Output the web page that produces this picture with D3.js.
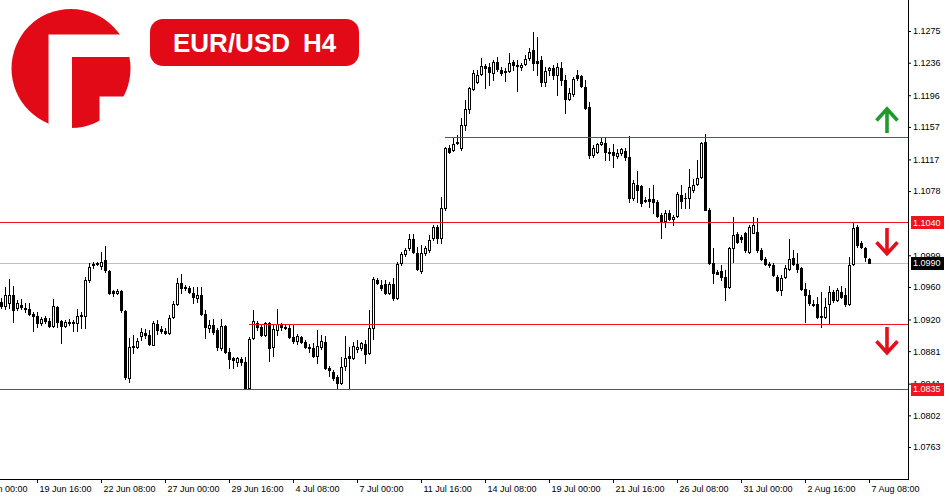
<!DOCTYPE html>
<html>
<head>
<meta charset="utf-8">
<script src="https://cdn.jsdelivr.net/npm/d3@7"></script>
<style>
  body { margin: 0; background: #fff; }
  svg { display: block; }
  text { font-family: "Liberation Sans", Arial, sans-serif; }
</style>
</head>
<body>
<script>
// EUR/USD H4 candles (oldest first)
var opens = [1.0942,1.0937,1.0940,1.0950,1.0934,1.0938,1.0934,1.0933,1.0927,1.0924,1.0916,1.0922,1.0918,1.0912,1.0935,1.0918,1.0912,1.0917,1.0916,1.0916,
  1.0924,1.0924,1.0969,1.0987,1.0988,1.0986,1.0993,1.0980,1.0955,1.0953,1.0955,1.0930,1.0848,1.0886,1.0886,1.0900,1.0903,1.0901,1.0888,1.0915,
  1.0908,1.0906,1.0903,1.0923,1.0939,1.0965,1.0959,1.0959,1.0953,1.0947,1.0950,1.0927,1.0910,1.0913,1.0907,1.0885,1.0912,1.0880,1.0873,1.0868,
  1.0871,1.0868,1.0836,1.0897,1.0916,1.0911,1.0901,1.0916,1.0886,1.0907,1.0913,1.0911,1.0910,1.0898,1.0893,1.0899,1.0892,1.0886,1.0885,1.0875,
  1.0886,1.0892,1.0860,1.0855,1.0849,1.0842,1.0863,1.0875,1.0873,1.0884,1.0885,1.0890,1.0879,1.0910,1.0969,1.0962,1.0964,1.0953,1.0964,1.0947,
  1.0990,1.1001,1.1008,1.1019,1.1002,1.0980,1.1002,1.1006,1.1020,1.1034,1.1020,1.1057,1.1131,1.1129,1.1137,1.1131,1.1159,1.1179,1.1204,1.1212,
  1.1222,1.1232,1.1231,1.1223,1.1237,1.1227,1.1226,1.1226,1.1237,1.1233,1.1231,1.1234,1.1242,1.1252,1.1238,1.1239,1.1212,1.1227,1.1230,1.1221,
  1.1230,1.1215,1.1191,1.1198,1.1221,1.1220,1.1206,1.1182,1.1122,1.1126,1.1136,1.1137,1.1126,1.1126,1.1121,1.1125,1.1127,1.1120,1.1070,1.1086,
  1.1084,1.1067,1.1068,1.1068,1.1065,1.1049,1.1041,1.1051,1.1044,1.1047,1.1073,1.1070,1.1070,1.1079,1.1087,1.1095,1.1138,1.1055,1.0990,1.0978,
  1.0980,1.0972,1.0960,1.1008,1.1025,1.1022,1.1026,1.1003,1.1026,1.1028,1.1006,1.0994,1.0988,1.0987,1.0972,1.0956,1.0972,1.0982,1.0996,1.0988,
  1.0983,1.0958,1.0950,1.0939,1.0939,1.0923,1.0923,1.0939,1.0954,1.0944,1.0954,1.0950,1.0939,1.0988,1.1034,1.1014,1.1008,1.0994];
var highs = [1.0947,1.0960,1.0970,1.0961,1.0944,1.0945,1.0940,1.0940,1.0929,1.0929,1.0923,1.0924,1.0922,1.0945,1.0937,1.0919,1.0919,1.0921,1.0919,1.0933,
  1.0929,1.0972,1.0990,1.0991,1.0991,1.1003,1.1010,1.0981,1.0956,1.0958,1.0956,1.0932,1.0897,1.0901,1.0897,1.0910,1.0908,1.0907,1.0918,1.0919,
  1.0912,1.0910,1.0926,1.0943,1.0971,1.0976,1.0962,1.0961,1.0960,1.0960,1.0960,1.0932,1.0919,1.0921,1.0910,1.0921,1.0913,1.0885,1.0874,1.0874,
  1.0874,1.0874,1.0898,1.0932,1.0918,1.0915,1.0917,1.0917,1.0913,1.0933,1.0916,1.0913,1.0915,1.0915,1.0902,1.0900,1.0895,1.0890,1.0891,1.0907,
  1.0901,1.0900,1.0863,1.0858,1.0852,1.0874,1.0900,1.0886,1.0892,1.0895,1.0892,1.0895,1.0932,1.0972,1.0971,1.0969,1.0969,1.0966,1.0971,1.0991,
  1.1003,1.1008,1.1025,1.1025,1.1009,1.1012,1.1010,1.1024,1.1036,1.1036,1.1071,1.1132,1.1135,1.1145,1.1147,1.1168,1.1190,1.1206,1.1227,1.1227,
  1.1242,1.1235,1.1236,1.1239,1.1243,1.1231,1.1230,1.1248,1.1239,1.1239,1.1236,1.1246,1.1254,1.1274,1.1268,1.1244,1.1231,1.1231,1.1233,1.1236,
  1.1237,1.1221,1.1205,1.1218,1.1227,1.1221,1.1215,1.1188,1.1135,1.1137,1.1143,1.1143,1.1131,1.1136,1.1130,1.1131,1.1131,1.1146,1.1092,1.1103,
  1.1086,1.1071,1.1082,1.1086,1.1067,1.1051,1.1055,1.1055,1.1049,1.1077,1.1086,1.1076,1.1105,1.1093,1.1116,1.1138,1.1148,1.1057,1.1008,1.0981,
  1.0987,1.0981,1.1009,1.1046,1.1028,1.1024,1.1028,1.1036,1.1046,1.1045,1.1008,1.0997,1.0991,1.0990,1.0975,1.0975,1.0987,1.1019,1.1006,1.1002,
  1.0985,1.0965,1.0956,1.0944,1.0948,1.0954,1.0947,1.0961,1.0956,1.0959,1.0961,1.0959,1.0997,1.1040,1.1036,1.1016,1.1009,1.0996];
var lows = [1.0934,1.0933,1.0934,1.0917,1.0932,1.0933,1.0929,1.0926,1.0906,1.0911,1.0913,1.0916,1.0911,1.0911,1.0911,1.0891,1.0911,1.0913,1.0906,1.0906,
  1.0910,1.0910,1.0966,1.0983,1.0987,1.0982,1.0978,1.0951,1.0949,1.0951,1.0929,1.0847,1.0843,1.0879,1.0885,1.0895,1.0897,1.0888,1.0888,1.0902,
  1.0903,1.0902,1.0902,1.0922,1.0938,1.0953,1.0956,1.0953,1.0940,1.0942,1.0926,1.0897,1.0905,1.0902,1.0882,1.0882,1.0879,1.0860,1.0860,1.0863,
  1.0864,1.0834,1.0834,1.0896,1.0907,1.0900,1.0900,1.0869,1.0875,1.0901,1.0907,1.0908,1.0897,1.0891,1.0890,1.0891,1.0885,1.0880,1.0874,1.0866,
  1.0884,1.0859,1.0850,1.0846,1.0834,1.0841,1.0858,1.0834,1.0871,1.0880,1.0882,1.0866,1.0878,1.0896,1.0964,1.0956,1.0951,1.0951,1.0944,1.0945,
  1.0987,1.0998,1.1005,1.1002,1.0981,1.0977,1.0999,1.1003,1.1018,1.1014,1.1014,1.1055,1.1125,1.1127,1.1136,1.1129,1.1153,1.1174,1.1202,1.1211,
  1.1221,1.1205,1.1209,1.1215,1.1226,1.1221,1.1214,1.1225,1.1227,1.1201,1.1227,1.1233,1.1239,1.1227,1.1221,1.1207,1.1207,1.1221,1.1216,1.1196,
  1.1209,1.1174,1.1190,1.1195,1.1215,1.1206,1.1179,1.1119,1.1120,1.1125,1.1135,1.1116,1.1116,1.1108,1.1119,1.1122,1.1116,1.1065,1.1067,1.1065,
  1.1060,1.1065,1.1058,1.1051,1.1046,1.1020,1.1034,1.1042,1.1036,1.1046,1.1057,1.1057,1.1057,1.1077,1.1086,1.1094,1.1055,1.0988,1.0965,1.0976,
  1.0969,1.0944,1.0959,1.0991,1.1014,1.1015,1.1003,1.1002,1.1026,1.1003,1.0993,1.0987,1.0985,1.0974,1.0955,1.0950,1.0971,1.0981,1.0987,1.0978,
  1.0956,1.0917,1.0938,1.0937,1.0922,1.0911,1.0922,1.0916,1.0942,1.0943,1.0947,1.0937,1.0938,1.0987,1.1009,1.1008,1.0992,1.0990];
var closes = [1.0937,1.0950,1.0950,1.0932,1.0940,1.0935,1.0933,1.0927,1.0924,1.0916,1.0921,1.0918,1.0912,1.0937,1.0917,1.0912,1.0917,1.0916,1.0917,1.0924,
  1.0926,1.0969,1.0985,1.0988,1.0990,1.0991,1.0981,1.0953,1.0953,1.0955,1.0932,1.0849,1.0886,1.0887,1.0893,1.0904,1.0901,1.0890,1.0916,1.0907,
  1.0906,1.0903,1.0922,1.0939,1.0965,1.0959,1.0960,1.0954,1.0948,1.0950,1.0927,1.0911,1.0913,1.0905,1.0886,1.0912,1.0880,1.0871,1.0870,1.0873,
  1.0868,1.0836,1.0896,1.0918,1.0911,1.0901,1.0916,1.0885,1.0908,1.0915,1.0911,1.0910,1.0899,1.0893,1.0900,1.0892,1.0886,1.0885,1.0875,1.0887,
  1.0893,1.0860,1.0858,1.0848,1.0842,1.0862,1.0873,1.0873,1.0887,1.0886,1.0891,1.0878,1.0910,1.0970,1.0965,1.0959,1.0953,1.0964,1.0947,1.0988,
  1.1001,1.1006,1.1019,1.1003,1.0982,1.1002,1.1008,1.1018,1.1034,1.1020,1.1057,1.1131,1.1126,1.1136,1.1138,1.1159,1.1179,1.1205,1.1223,1.1221,
  1.1232,1.1230,1.1225,1.1237,1.1228,1.1223,1.1225,1.1236,1.1233,1.1232,1.1233,1.1241,1.1249,1.1236,1.1236,1.1212,1.1226,1.1230,1.1221,1.1231,
  1.1215,1.1191,1.1199,1.1216,1.1217,1.1207,1.1180,1.1122,1.1131,1.1136,1.1138,1.1126,1.1125,1.1122,1.1125,1.1130,1.1120,1.1070,1.1088,1.1079,
  1.1063,1.1066,1.1066,1.1065,1.1047,1.1040,1.1051,1.1044,1.1046,1.1075,1.1066,1.1069,1.1083,1.1086,1.1094,1.1137,1.1055,1.0990,1.0977,1.0976,
  1.0972,1.0960,1.1008,1.1024,1.1015,1.1019,1.1006,1.1034,1.1036,1.1006,1.0994,1.0988,1.0987,1.0975,1.0956,1.0971,1.0983,1.0994,1.0988,1.0982,
  1.0958,1.0950,1.0940,1.0938,1.0923,1.0924,1.0935,1.0954,1.0944,1.0956,1.0948,1.0939,1.0987,1.1033,1.1012,1.1009,1.0997,1.0990];

// price axis tick labels
var priceTicks = [1.1275, 1.1236, 1.1196, 1.1157, 1.1117, 1.1078, 1.0999, 1.0960, 1.0920, 1.0881, 1.0841, 1.0802, 1.0763];

// time axis: bar index of each label and its text
var timeTickBars = [-7, 9, 25, 41, 57, 73, 89, 105, 121, 137, 153, 169, 185, 201, 217];
var timeTickLabels = ["15 Jun 00:00", "19 Jun 16:00", "22 Jun 08:00", "27 Jun 00:00", "29 Jun 16:00", "4 Jul 08:00", "7 Jul 00:00",
  "11 Jul 16:00", "14 Jul 08:00", "19 Jul 00:00", "21 Jul 16:00", "26 Jul 08:00", "31 Jul 00:00", "2 Aug 16:00", "7 Aug 08:00"];

// horizontal levels: price, first bar (null = whole width)
var levelPrices = [1.11445, 1.1040, 1.09144, 1.0835];
var levelStartBars = [111, null, 62, null];
var levelTagged = [false, true, false, true];
var lastPrice = 1.0990;

// arrows drawn at the right: direction, price at tip, price at tail
var arrowDirs = ["up", "down", "down"];
var arrowTips = [1.1179, 1.1001, 1.0879];
var arrowTails = [1.11495, 1.10326, 1.09107];
var arrowBar = 221.5;

var RED = "#f0141e";
var LOGO_RED = "#e20a17";

var width = 950, height = 500;
var axisX = 908, axisY = 479;

var svg = d3.select("body").append("svg")
  .attr("width", width)
  .attr("height", height);

// scales
var x = d3.scaleLinear().domain([0, opens.length - 1]).range([1, 869]);
var y = d3.scaleLinear().domain([1.13132 - axisY / 8125, 1.13132]).range([axisY, 0]);

var candles = opens.map(function(o, i) {
  return { i: i, o: o, h: highs[i], l: lows[i], c: closes[i] };
});

// grey line of the last price sits behind the bars
svg.append("line")
  .attr("x1", 0).attr("x2", axisX)
  .attr("y1", Math.round(y(lastPrice)) + 0.5).attr("y2", Math.round(y(lastPrice)) + 0.5)
  .attr("stroke", "#c0c0c0").attr("stroke-width", 1);

var gC = svg.append("g").attr("shape-rendering", "crispEdges");

// wicks
gC.selectAll("rect.wick")
  .data(candles)
  .enter().append("rect")
  .attr("class", "wick")
  .attr("x", function(d) { return Math.round(x(d.i)); })
  .attr("width", 1)
  .attr("y", function(d) { return Math.round(y(d.h)); })
  .attr("height", function(d) { return Math.round(y(d.l)) - Math.round(y(d.h)) + 1; })
  .attr("fill", "#000");

// bodies
gC.selectAll("rect.body")
  .data(candles)
  .enter().append("rect")
  .attr("class", "body")
  .each(function(d) {
    var cx = Math.round(x(d.i));
    var top = Math.round(y(Math.max(d.o, d.c)));
    var bot = Math.round(y(Math.min(d.o, d.c)));
    var sel = d3.select(this);
    if (d.c >= d.o && bot - top >= 2) {
      sel.attr("x", cx - 0.5).attr("y", top + 0.5)
        .attr("width", 2).attr("height", bot - top)
        .attr("fill", "#fff").attr("stroke", "#000").attr("stroke-width", 1)
        .attr("shape-rendering", "auto");
    } else {
      sel.attr("x", cx - 1).attr("y", top)
        .attr("width", 3).attr("height", Math.max(1, bot - top + 1))
        .attr("fill", "#000");
    }
  });

// red levels on top of the bars
svg.selectAll("line.level")
  .data(levelPrices)
  .enter().append("line")
  .attr("class", "level")
  .attr("x1", function(d, i) { return levelStartBars[i] === null ? 0 : x(levelStartBars[i]); })
  .attr("x2", axisX)
  .attr("y1", function(d) { return Math.round(y(d)) + 0.5; })
  .attr("y2", function(d) { return Math.round(y(d)) + 0.5; })
  .attr("stroke", RED).attr("stroke-width", 1);

// arrows
arrowDirs.forEach(function(dir, k) {
  var cx = x(arrowBar);
  var tip = y(arrowTips[k]), tail = y(arrowTails[k]);
  var s = dir === "up" ? 1 : -1;
  var col = dir === "up" ? "#1f9a2d" : "#e3101b";
  svg.append("path")
    .attr("d", "M" + cx + "," + tail + "L" + cx + "," + tip +
      "M" + (cx - 10.5) + "," + (tip + s * 11.5) + "L" + cx + "," + tip + "L" + (cx + 10.5) + "," + (tip + s * 11.5))
    .attr("fill", "none").attr("stroke", col).attr("stroke-width", 3.6)
    .attr("stroke-linejoin", "miter");
});

// price axis
var yAxis = d3.axisRight(y)
  .tickValues(priceTicks)
  .tickFormat(d3.format(".4f"))
  .tickSizeInner(3)
  .tickSizeOuter(0)
  .tickPadding(2);

var gy = svg.append("g")
  .attr("transform", "translate(" + axisX + ",0)")
  .call(yAxis);
gy.select(".domain").remove();
gy.selectAll("text").attr("font-size", 9).attr("font-family", "Liberation Sans, Arial, sans-serif").attr("fill", "#000");

svg.append("line")
  .attr("x1", axisX + 0.5).attr("x2", axisX + 0.5)
  .attr("y1", 0).attr("y2", axisY + 1)
  .attr("stroke", "#000");

// time axis
var xAxis = d3.axisBottom(x)
  .tickValues(timeTickBars)
  .tickFormat(function(d, i) { return timeTickLabels[i]; })
  .tickSizeInner(4)
  .tickSizeOuter(0)
  .tickPadding(3);

var gx = svg.append("g")
  .attr("transform", "translate(0," + axisY + ")")
  .call(xAxis);
gx.select(".domain").remove();
gx.selectAll("text")
  .attr("text-anchor", "start")
  .attr("x", 2)
  .attr("font-size", 9)
  .attr("font-family", "Liberation Sans, Arial, sans-serif")
  .attr("fill", "#000");

svg.append("line")
  .attr("x1", 0).attr("x2", axisX + 1)
  .attr("y1", axisY + 0.5).attr("y2", axisY + 0.5)
  .attr("stroke", "#000");

// tagged prices on the axis
var tags = levelPrices.filter(function(d, i) { return levelTagged[i]; })
  .map(function(d) { return { v: d, bg: RED }; })
  .concat([{ v: lastPrice, bg: "#000" }]);

var gt = svg.selectAll("g.tag")
  .data(tags)
  .enter().append("g")
  .attr("class", "tag");
gt.append("rect")
  .attr("x", axisX + 3)
  .attr("y", function(d) { return Math.round(y(d.v)) - 6; })
  .attr("width", 33).attr("height", 13)
  .attr("fill", function(d) { return d.bg; });
gt.append("text")
  .attr("x", axisX + 5)
  .attr("y", function(d) { return y(d.v) + 3.8; })
  .attr("font-size", 9)
  .attr("fill", "#fff")
  .text(function(d) { return d3.format(".4f")(d.v); });

// logo: red disc with an F cut out of it
var defs = svg.append("defs");
defs.append("clipPath").attr("id", "disc")
  .append("circle").attr("cx", 71).attr("cy", 68.5).attr("r", 59.5);
var logo = svg.append("g").attr("clip-path", "url(#disc)").attr("fill", LOGO_RED);
logo.append("rect").attr("x", 0).attr("y", 0).attr("width", 48.5).attr("height", 140);
logo.append("rect").attr("x", 0).attr("y", 0).attr("width", 140).attr("height", 34.5);
logo.append("rect").attr("x", 72).attr("y", 57).attr("width", 70).attr("height", 39.5);
logo.append("rect").attr("x", 72).attr("y", 57).attr("width", 27.5).attr("height", 90);

// symbol badge
svg.append("rect")
  .attr("x", 150).attr("y", 19).attr("width", 209).attr("height", 47)
  .attr("rx", 13).attr("fill", LOGO_RED);
svg.append("text")
  .attr("x", 173).attr("y", 52)
  .attr("font-family", "Roboto, sans-serif").attr("font-weight", 700).attr("font-size", 26)
  .attr("fill", "#fff")
  .text("EUR/USD");
svg.append("text")
  .attr("x", 303).attr("y", 52)
  .attr("font-family", "Roboto, sans-serif").attr("font-weight", 700).attr("font-size", 26)
  .attr("fill", "#fff")
  .text("H4");
</script>
</body>
</html>
